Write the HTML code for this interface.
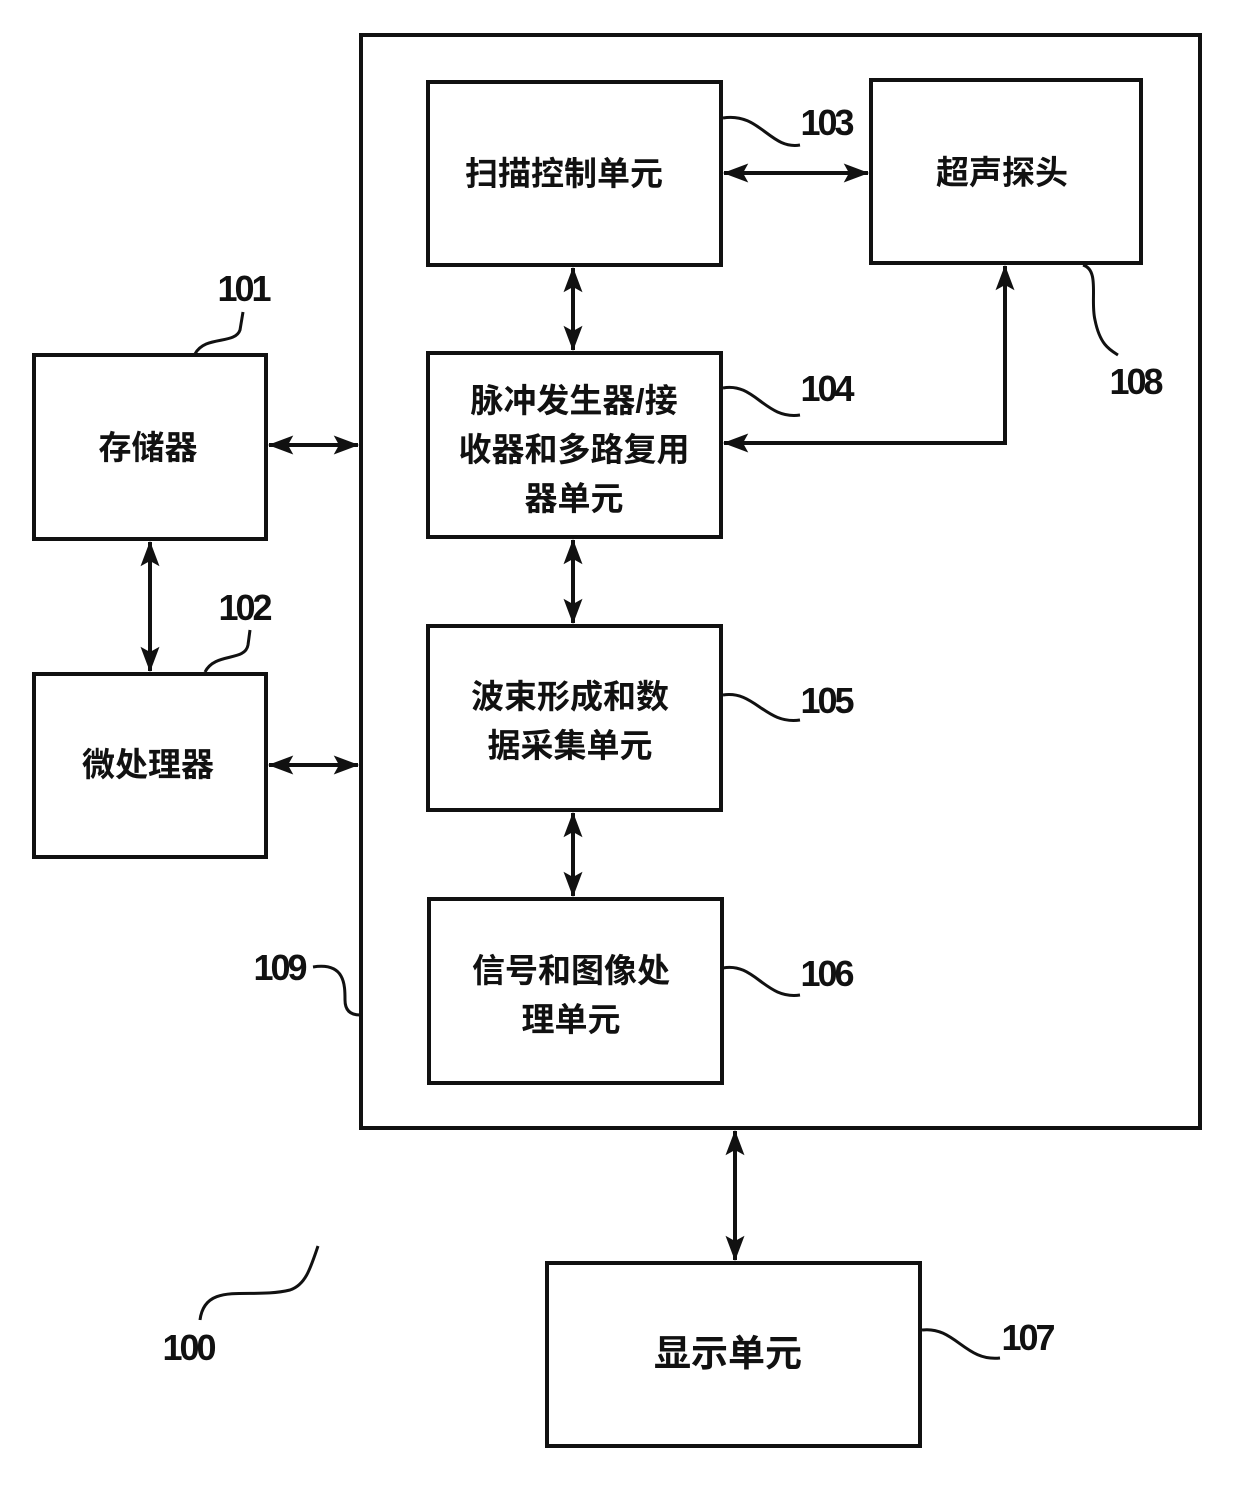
<!DOCTYPE html>
<html><head><meta charset="utf-8"><style>
html,body{margin:0;padding:0;background:#fff;}
svg{display:block;}
.cn{font-family:"Liberation Sans","Noto Sans CJK SC",sans-serif;font-weight:bold;font-size:33px;fill:#111;text-anchor:middle;}
.num{font-family:"Liberation Sans",sans-serif;font-weight:bold;font-size:36px;fill:#111;text-anchor:middle;letter-spacing:-3px;}
</style></head><body>
<svg width="1240" height="1485" viewBox="0 0 1240 1485" xmlns="http://www.w3.org/2000/svg">
<defs>
<marker id="b" viewBox="0 0 24 18" refX="23" refY="9" markerWidth="26" markerHeight="19" orient="auto-start-reverse" markerUnits="userSpaceOnUse">
<path d="M0,0 L24,9 L0,18 L5,9 z" fill="#111"/></marker>
</defs>
<g fill="none" stroke="#111" stroke-width="4">
<rect x="361" y="35" width="839" height="1093"/>
<rect x="428" y="82" width="293" height="183"/>
<rect x="871" y="80" width="270" height="183"/>
<rect x="428" y="353" width="293" height="184"/>
<rect x="428" y="626" width="293" height="184"/>
<rect x="429" y="899" width="293" height="184"/>
<rect x="34" y="355" width="232" height="184"/>
<rect x="34" y="674" width="232" height="183"/>
<rect x="547" y="1263" width="373" height="183"/>
</g>
<g stroke="#111" stroke-width="4" fill="none" marker-start="url(#b)" marker-end="url(#b)">
<line x1="724" y1="173" x2="868" y2="173"/>
<line x1="573" y1="268" x2="573" y2="350"/>
<line x1="573" y1="540" x2="573" y2="623"/>
<line x1="573" y1="813" x2="573" y2="896"/>
<line x1="269" y1="445" x2="358" y2="445"/>
<line x1="269" y1="765" x2="358" y2="765"/>
<line x1="150" y1="542" x2="150" y2="671"/>
<line x1="735" y1="1131" x2="735" y2="1260"/>
<path d="M1005,266 L1005,443 L724,443"/>
</g>
<g stroke="#111" stroke-width="3" fill="none">
<path d="M723,118 C760,112 770,150 800,145"/>
<path d="M723,388 C755,382 765,420 800,415"/>
<path d="M723,695 C755,690 765,725 800,720"/>
<path d="M723,968 C755,962 765,1000 800,995"/>
<path d="M922,1330 C955,1326 965,1362 1000,1358"/>
<path d="M1083,265 C1100,270 1090,300 1095,320 C1100,345 1110,350 1118,355"/>
<path d="M313,967 C345,962 345,985 345,1000 C345,1010 350,1015 360,1015"/>
<path d="M195,354 C205,335 235,345 240,330 L243,312"/>
<path d="M205,672 C215,652 245,662 248,645 L250,630"/>
<path d="M200,1320 C205,1280 250,1300 290,1290 C305,1285 310,1270 318,1246"/>
</g>
<text class="cn" x="564" y="185">扫描控制单元</text>
<text class="cn" x="1002" y="184">超声探头</text>
<text class="cn" x="574" y="412">脉冲发生器/接</text>
<text class="cn" x="574" y="461">收器和多路复用</text>
<text class="cn" x="574" y="510">器单元</text>
<text class="cn" x="570" y="708">波束形成和数</text>
<text class="cn" x="570" y="757">据采集单元</text>
<text class="cn" x="571" y="982">信号和图像处</text>
<text class="cn" x="571" y="1031">理单元</text>
<text class="cn" x="148" y="459">存储器</text>
<text class="cn" x="148" y="776">微处理器</text>
<text class="cn" x="728" y="1366" style="font-size:37px">显示单元</text>
<text class="num" x="826" y="135">103</text>
<text class="num" x="243" y="301">101</text>
<text class="num" x="244" y="620">102</text>
<text class="num" x="826" y="401">104</text>
<text class="num" x="826" y="713">105</text>
<text class="num" x="826" y="986">106</text>
<text class="num" x="1027" y="1350">107</text>
<text class="num" x="1135" y="394">108</text>
<text class="num" x="279" y="980">109</text>
<text class="num" x="188" y="1360">100</text>
</svg>
</body></html>
